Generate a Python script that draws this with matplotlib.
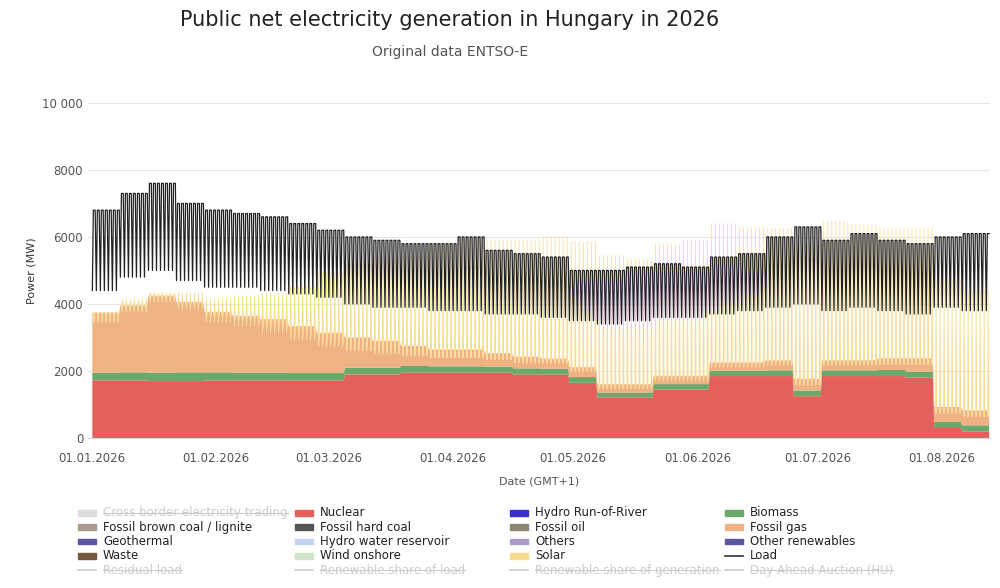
import numpy as np
import matplotlib.pyplot as plt
from matplotlib.lines import Line2D
import matplotlib.dates as mdates
import datetime as dt

# weekly values, starting 01.01.2026 (MW)
nuclear = [1720, 1720, 1700, 1700, 1720, 1720, 1720, 1720, 1720, 1900, 1900, 1950, 1950, 1950, 1950, 1900,
           1900, 1650, 1200, 1200, 1450, 1450, 1850, 1850, 1850, 1250, 1850, 1850, 1850, 1800, 300, 200]
biomass = [230, 240, 250, 260, 240, 230, 230, 220, 220, 200, 200, 200, 190, 190, 180, 180,
           170, 170, 160, 160, 160, 160, 160, 160, 170, 170, 170, 170, 180, 180, 180, 180]
gas_night = [1800, 2000, 2300, 2100, 1800, 1700, 1600, 1400, 1200, 900, 800, 600, 500, 500, 400, 350,
             300, 300, 250, 250, 250, 250, 250, 250, 300, 350, 300, 300, 350, 400, 450, 450]
gas_day = [1500, 1800, 2100, 1900, 1500, 1400, 1200, 1000, 800, 500, 400, 300, 250, 250, 200, 150,
           150, 150, 100, 100, 100, 100, 100, 100, 150, 150, 150, 150, 150, 200, 250, 250]
solar_peak = [300, 400, 300, 500, 700, 900, 1200, 1600, 2200, 2600, 2900, 3000, 3300, 3500, 3600, 3700,
              3800, 3900, 4000, 3900, 4100, 4200, 4300, 4200, 4100, 4200, 4300, 4200, 4100, 4100, 4000, 3800]
load_day = [6800, 7300, 7600, 7000, 6800, 6700, 6600, 6400, 6200, 6000, 5900, 5800, 5800, 6000, 5600, 5500,
            5400, 5000, 5000, 5100, 5200, 5100, 5400, 5500, 6000, 6300, 5900, 6100, 5900, 5800, 6000, 6100]
load_night = [4400, 4800, 5000, 4700, 4500, 4500, 4400, 4300, 4200, 4000, 3900, 3900, 3800, 3800, 3700, 3700,
              3600, 3500, 3400, 3500, 3600, 3600, 3700, 3800, 3900, 4000, 3800, 3900, 3800, 3700, 3900, 3800]

start = dt.datetime(2026, 1, 1)
ndays = 7 * len(nuclear)
hours = [2, 8, 11, 15, 19]
t = [start + dt.timedelta(days=d, hours=h) for d in range(ndays) for h in hours]

def expand(*cols):
    # cols: one weekly list per hour slot
    out = []
    for vals in zip(*cols):
        out += list(vals) * 7
    return np.array(out, dtype=float)

zeros = [0] * len(nuclear)
nuc = expand(nuclear, nuclear, nuclear, nuclear, nuclear)
bio = expand(biomass, biomass, biomass, biomass, biomass)
gas = expand(gas_night, gas_night, gas_day, gas_day, gas_night)
sol = expand(zeros, zeros, solar_peak, solar_peak, zeros)
load = expand(load_night, load_day, load_day, load_day, load_day)

fig = plt.figure(figsize=(10, 5.88), dpi=100)
ax = fig.add_axes([0.088, 0.255, 0.902, 0.57])
ax.stackplot(t, nuc, bio, gas, sol, colors=['#e4605a', '#6aa96a', '#efb283', '#f8dc8c'], linewidth=0)
ax.plot(t, load, color='#222222', lw=0.9)

ax.set_ylim(0, 10000)
ax.set_xlim(start - dt.timedelta(days=1), start + dt.timedelta(days=ndays))
ax.set_yticks([0, 2000, 4000, 6000, 8000, 10000])
ax.set_yticklabels(['0', '2000', '4000', '6000', '8000', '10 000'])
ax.xaxis.set_major_locator(mdates.MonthLocator())
ax.xaxis.set_major_formatter(mdates.DateFormatter('%d.%m.%Y'))
ax.grid(axis='y', color='#e6e6e6', lw=0.8)
ax.set_axisbelow(True)
for s in ['top', 'right', 'left']:
    ax.spines[s].set_visible(False)
ax.spines['bottom'].set_color('#ccd6eb')
ax.tick_params(axis='both', length=0, labelsize=8.5, colors='#555555')
ax.tick_params(axis='x', pad=10)
ax.set_ylabel('Power (MW)', fontsize=8, color='#333333')
ax.set_xlabel('Date (GMT+1)', fontsize=8, color='#555555', labelpad=8)

fig.text(0.45, 0.955, 'Public net electricity generation in Hungary in 2026', ha='center', fontsize=15, color='#222222')
fig.text(0.45, 0.905, 'Original data ENTSO-E', ha='center', fontsize=10, color='#555555')

grey = '#cccccc'
items = [
    ('Cross border electricity trading', 'p', '#dddddd', True), ('Nuclear', 'p', '#e4605a', False),
    ('Hydro Run-of-River', 'p', '#3b2fc9', False), ('Biomass', 'p', '#6aa96a', False),
    ('Fossil brown coal / lignite', 'p', '#a89a8a', False), ('Fossil hard coal', 'p', '#555555', False),
    ('Fossil oil', 'p', '#8f8573', False), ('Fossil gas', 'p', '#efb283', False),
    ('Geothermal', 'p', '#5b55a0', False), ('Hydro water reservoir', 'p', '#c4d4f2', False),
    ('Others', 'p', '#a99bc8', False), ('Other renewables', 'p', '#5b55a0', False),
    ('Waste', 'p', '#74593d', False), ('Wind onshore', 'p', '#cfe3c8', False),
    ('Solar', 'p', '#f8dc8c', False), ('Load', 'l', '#333333', False),
    ('Residual load', 'l', grey, True), ('Renewable share of load', 'l', grey, True),
    ('Renewable share of generation', 'l', grey, True), ('Day Ahead Auction (HU)', 'l', grey, True),
]
xs = [0.078, 0.295, 0.51, 0.725]
fig.canvas.draw()
for i, (lab, kind, col, hidden) in enumerate(items):
    x = xs[i % 4]
    y = 0.128 - (i // 4) * 0.0245
    if kind == 'p':
        fig.patches.append(plt.Rectangle((x, y - 0.005), 0.018, 0.01, color=col, transform=fig.transFigure, figure=fig))
    else:
        fig.lines.append(Line2D([x, x + 0.018], [y, y], color=col, lw=1.2, transform=fig.transFigure, figure=fig))
    tc = grey if hidden else '#222222'
    txt = fig.text(x + 0.025, y, lab, fontsize=8.5, color=tc, va='center')
    if hidden:
        bb = txt.get_window_extent(renderer=fig.canvas.get_renderer()).transformed(fig.transFigure.inverted())
        fig.lines.append(Line2D([bb.x0, bb.x1], [y, y], color=grey, lw=0.8, transform=fig.transFigure, figure=fig))

fig.savefig('out.png', dpi=100)
